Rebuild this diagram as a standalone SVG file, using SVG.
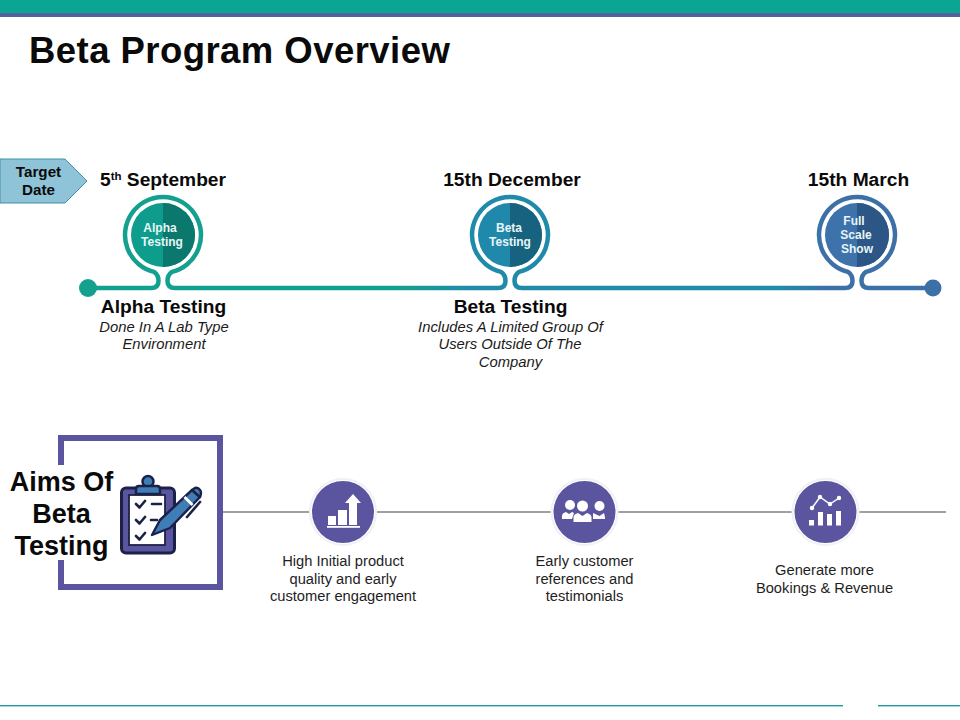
<svg xmlns="http://www.w3.org/2000/svg" width="960" height="720" viewBox="0 0 960 720">
<style>
text{font-family:"Liberation Sans",Arial,sans-serif;text-anchor:middle;fill:#0a0a0a}
.date{font-size:19.2px;font-weight:bold}
.head{font-size:19.200px;font-weight:bold}
.desc{font-size:14.800px;font-style:italic;fill:#1a1a1a}
.in{font-size:12px;font-weight:bold;fill:#e8f6f6}
.aim{font-size:27px;font-weight:bold}
.lab{font-size:14.700px;fill:#1e1e1e}
.tag{font-size:15.200px;font-weight:bold}
.halo{fill:#fff;stroke:#f0f0f5;stroke-width:2}
.disc{fill:#5b55a0}
.ic{fill:#fff;stroke:none}
.icl{fill:none;stroke:#fff;stroke-width:1.500}
.k{fill:none;stroke:#1c2148;stroke-width:2.600;stroke-linecap:round;stroke-linejoin:round}
</style>
<defs>
<linearGradient id="tl" gradientUnits="userSpaceOnUse" x1="88" y1="0" x2="933" y2="0">
<stop offset="0" stop-color="#14a08f"/><stop offset="0.37" stop-color="#14a08f"/>
<stop offset="0.45" stop-color="#1f8ba8"/><stop offset="0.82" stop-color="#1f8ba8"/>
<stop offset="0.87" stop-color="#3e70a8"/><stop offset="1" stop-color="#3e70a8"/>
</linearGradient>
</defs>
<rect id="bar-top" x="0" y="0" width="960" height="13" fill="#0ba594"/>
<rect id="bar-under" x="0" y="13" width="960" height="4" fill="#55609c"/>
<text x="29" y="63" font-size="36.500" font-weight="bold" letter-spacing="0.450" style="text-anchor:start">Beta Program Overview</text>

<g id="connectors">
<path d="M88 288H151Q158.500 288 158.500 281Q158.500 275 154 271.900A38 38 0 1 1 172 271.900Q167.500 275 167.500 281Q167.500 288 175 288H498Q505.500 288 505.500 281Q505.500 275 501 271.900A38 38 0 1 1 519 271.900Q514.500 275 514.500 281Q514.500 288 522 288H845Q852.500 288 852.500 281Q852.500 275 848 271.900A38 38 0 1 1 866 271.900Q861.500 275 861.500 281Q861.500 288 869 288H933" fill="none" stroke="url(#tl)" stroke-width="4.500" stroke-linejoin="round"/>
<path d="M223 512H946" fill="none" stroke="#808080" stroke-width="1.600"/>
</g>

<g id="target-date">
<path d="M0 159H65L87 181L65 203H0Z" fill="#8ec3d8" stroke="#3f8fae" stroke-width="1"/>
<text class="tag" x="38.500" y="177">Target</text>
<text class="tag" x="38.500" y="195">Date</text>
</g>

<g id="start-dot"><circle cx="88" cy="288" r="9" fill="#14a08f"/></g>
<g id="end-dot"><circle cx="933" cy="288" r="8.500" fill="#3e70a8"/></g>

<g id="node-alpha">
<text class="date" x="163" y="186">5<tspan font-size="11.500" dy="-6">th</tspan><tspan dy="6"> September</tspan></text>
<circle cx="163" cy="235" r="32" fill="#0e9c8c"/>
<path d="M163 203A32 32 0 0 1 163 267Z" fill="#0b786e"/>
<text class="in" x="160" y="232">Alpha</text>
<text class="in" x="162" y="246">Testing</text>
<text class="head" x="163.500" y="313">Alpha Testing</text>
<text class="desc" x="164" y="332">Done In A Lab Type</text>
<text class="desc" x="164" y="349">Environment</text>
</g>

<g id="node-beta">
<text class="date" x="512" y="186">15th December</text>
<circle cx="510" cy="235" r="32" fill="#2089ab"/>
<path d="M510 203A32 32 0 0 1 510 267Z" fill="#17637f"/>
<text class="in" x="509" y="232">Beta</text>
<text class="in" x="510" y="246">Testing</text>
<text class="head" x="510.500" y="313">Beta Testing</text>
<text class="desc" x="510.500" y="332">Includes A Limited Group Of</text>
<text class="desc" x="510" y="349">Users Outside Of The</text>
<text class="desc" x="510.500" y="367">Company</text>
</g>

<g id="node-full">
<text class="date" x="858.500" y="186">15th March</text>
<circle cx="857" cy="235" r="32" fill="#3e72ab"/>
<path d="M857 203A32 32 0 0 1 857 267Z" fill="#2b5686"/>
<text class="in" x="854" y="225">Full</text>
<text class="in" x="856" y="239">Scale</text>
<text class="in" x="857" y="253">Show</text>
</g>

<g id="aims">
<rect x="61" y="438" width="159" height="149" fill="#fff" stroke="#5b55a0" stroke-width="6"/>
<rect x="10" y="465" width="105" height="95" fill="#fff"/>
<text class="aim" x="61.500" y="491">Aims Of</text>
<text class="aim" x="61.500" y="523">Beta</text>
<text class="aim" x="61.500" y="555">Testing</text>
<rect x="121.500" y="488" width="53" height="65" rx="4.500" fill="#5b55a0" stroke="#1c2148" stroke-width="3"/>
<rect x="129" y="495" width="36" height="50" fill="#fff" stroke="#1c2148" stroke-width="1.800"/>
<circle cx="148" cy="481.500" r="5.500" fill="#3e7db5" stroke="#1c2148" stroke-width="2.500"/>
<path d="M136 494V489Q136 486 139 486H157Q160 486 160 489V494Z" fill="#3e7db5" stroke="#1c2148" stroke-width="2.500" stroke-linejoin="round"/>
<path class="k" d="M136 504L139.500 507.500L145 501M136 520L139.500 523.500L145 517M136 536L139.500 539.500L145 533M152 504H161M151 520H157"/>
<path d="M160 520L192 490L200 497L170 528L152 535Z" fill="#3e7db5" stroke="#1c2148" stroke-width="2.400" stroke-linejoin="round"/>
<path d="M184.500 497L192.500 505" stroke="#fff" stroke-width="2.800" fill="none"/>
<path d="M192 490L195 488Q198 487 200 490Q202 493 200 497Z" fill="#3e7db5" stroke="#1c2148" stroke-width="2.400" stroke-linejoin="round"/>
<path class="k" d="M200 502L187 517"/>
</g>

<g id="aim-quality">
<circle class="halo" cx="343" cy="512" r="33"/>
<circle class="disc" cx="343" cy="512" r="31"/>
<rect class="ic" x="327" y="526" width="33" height="1.800"/>
<rect class="ic" x="328" y="516" width="8" height="9"/>
<rect class="ic" x="338" y="510" width="9" height="15"/>
<path class="ic" d="M353 494L361 503H357V525H349V503H345Z"/>
<text class="lab" x="343" y="566">High Initial product</text>
<text class="lab" x="343" y="584">quality and early</text>
<text class="lab" x="343" y="601">customer engagement</text>
</g>

<g id="aim-customers">
<circle class="halo" cx="584.500" cy="512" r="33"/>
<circle class="disc" cx="584.500" cy="512" r="31"/>
<circle class="ic" cx="570" cy="505" r="5"/>
<circle class="ic" cx="582.500" cy="506" r="5.500"/>
<circle class="ic" cx="599.500" cy="506" r="5"/>
<path class="ic" d="M562 519V516Q562 513 566 512L569 514L572 512L574 513L572 519Z"/>
<path class="ic" d="M573.500 522V517Q574 514 578 513L582.500 516L587 513Q591 514 591.500 517V522Z"/>
<path class="ic" d="M593 519V513L599.500 516L604 513Q605 516 605 519Z"/>
<text class="lab" x="584.500" y="566">Early customer</text>
<text class="lab" x="584.500" y="584">references and</text>
<text class="lab" x="584.500" y="601">testimonials</text>
</g>

<g id="aim-revenue">
<circle class="halo" cx="825.500" cy="512" r="33"/>
<circle class="disc" cx="825.500" cy="512" r="31"/>
<rect class="ic" x="809" y="520" width="5" height="5.500"/>
<rect class="ic" x="818" y="512" width="5" height="13.500"/>
<rect class="ic" x="827" y="514" width="5" height="11.500"/>
<rect class="ic" x="836" y="511" width="5" height="14.500"/>
<path class="icl" d="M812 508L820 497L830 504L839 498"/>
<circle class="ic" cx="812" cy="508" r="2.200"/>
<circle class="ic" cx="820" cy="497" r="2.200"/>
<circle class="ic" cx="830" cy="504" r="2.200"/>
<circle class="ic" cx="839" cy="498" r="2.200"/>
<text class="lab" x="824.500" y="575">Generate more</text>
<text class="lab" x="824.500" y="593">Bookings &amp; Revenue</text>
</g>

<g id="footer-rule" fill="#1f9aa0"><rect x="0" y="705" width="843" height="1.400"/><rect x="878" y="705" width="82" height="1.400"/></g>
</svg>
